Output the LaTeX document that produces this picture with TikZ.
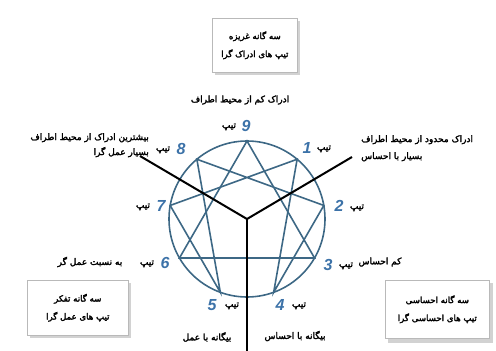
\documentclass[tikz,border=0pt]{standalone}
\usepackage{fontspec}
\setmainfont{Liberation Sans}
\newfontfamily\fab[Script=Arabic,FakeBold=2.5]{DejaVu Sans}
\TeXXeTstate=1
\definecolor{ennea}{HTML}{3D6885}
\definecolor{numblue}{HTML}{3C72A8}
\definecolor{shadowgray}{HTML}{D2D2D2}
\begin{document}
\begin{tikzpicture}[x=1pt,y=-1pt,
  fatxt/.style={font=\fab\fontsize{9}{17}\selectfont, inner sep=1pt},
  tiptxt/.style={font=\fab\fontsize{9}{10}\selectfont, inner sep=1pt},
  numtxt/.style={font=\bfseries\itshape\fontsize{16}{17}\selectfont, text=numblue, inner sep=1pt},
  boxtxt/.style={font=\fab\fontsize{8.6}{18}\selectfont, align=center},
  tribox/.style={draw=gray!55, fill=white, line width=0.6pt},
  axis/.style={line width=2pt, black},
  ennline/.style={line width=1.6pt, ennea}]
\useasboundingbox (0,0) rectangle (496,351);
% center and points
\coordinate (C) at (247,219);
\foreach \k in {1,...,9}{
  \coordinate (p\k) at ({247+78*cos(90-40*\k)},{219-78*sin(90-40*\k)});
}
% boxes with shadow
\fill[shadowgray] (215,21) rectangle (300,75);
\node[tribox, minimum width=85pt, minimum height=54pt, anchor=north west] (topbox) at (212,18) {};
\node[boxtxt] (toptext) at (topbox.center) {\beginR سه گانه غریزه\endR\\ \beginR تیپ های ادراک گرا\endR};
\fill[shadowgray] (30,283) rectangle (131,338);
\node[tribox, minimum width=101pt, minimum height=55pt, anchor=north west] (leftbox) at (27,280) {};
\node[boxtxt] (lefttext) at (leftbox.center) {\beginR سه گانه تفکر\endR\\ \beginR تیپ های عمل گرا\endR};
\fill[shadowgray] (388,283) rectangle (493,343);
\node[tribox, minimum width=104pt, minimum height=58pt, anchor=north west] (rightbox) at (385,280) {};
\node[boxtxt] (righttext) at (rightbox.center) {\beginR سه گانه احساسی\endR\\ \beginR تیپ های احساسی گرا\endR};
% enneagram
\draw[ennline] (C) circle[radius=78pt];
\draw[ennline] (p9) -- (p3) -- (p6) -- cycle;
\draw[ennline] (p1) -- (p4) -- (p2) -- (p8) -- (p5) -- (p7) -- cycle;
% axes
\coordinate (ur) at (352,157);
\coordinate (ul) at (140,156);
\coordinate (dn) at (247,351);
\draw[axis] (C) -- (ur);
\draw[axis] (C) -- (ul);
\draw[axis] (C) -- (dn);
% number labels
\node[numtxt] (n9) at (246,126) {9};
\node[tiptxt] (t9) at (229,127) {\beginR تیپ\endR};
\node[numtxt] (n1) at (307,148) {1};
\node[tiptxt] (t1) at (324,149) {\beginR تیپ\endR};
\node[numtxt] (n2) at (339,206) {2};
\node[tiptxt] (t2) at (357,208) {\beginR تیپ\endR};
\node[numtxt] (n3) at (328,265) {3};
\node[tiptxt] (t3) at (346,266) {\beginR تیپ\endR};
\node[numtxt] (n4) at (280,305) {4};
\node[tiptxt] (t4) at (299,306) {\beginR تیپ\endR};
\node[numtxt] (n5) at (212,305) {5};
\node[tiptxt] (t5) at (232,306) {\beginR تیپ\endR};
\node[numtxt] (n6) at (165,263) {6};
\node[tiptxt] (t6) at (147,264) {\beginR تیپ\endR};
\node[numtxt] (n7) at (161,206) {7};
\node[tiptxt] (t7) at (143,207) {\beginR تیپ\endR};
\node[numtxt] (n8) at (181,149) {8};
\node[tiptxt] (t8) at (163,150) {\beginR تیپ\endR};
% descriptions
\node[fatxt] (d9) at (240,100) {\beginR ادراک کم از محیط اطراف\endR};
\node[fatxt, anchor=north west, align=left] (d1) at (360,134) {\beginR ادراک محدود از محیط اطراف\endR\\ \beginR بسیار با احساس\endR};
\node[fatxt, anchor=north east, align=right] (d8) at (150,132) {\beginR بیشترین ادراک از محیط اطراف\endR\\[-2pt] \beginR بسیار عمل گرا\endR};
\node[fatxt] (d3) at (380,262) {\beginR کم احساس\endR};
\node[fatxt] (d6) at (90,262) {\beginR به نسبت عمل گر\endR};
\node[fatxt] (d4) at (295,336) {\beginR بیگانه با احساس\endR};
\node[fatxt] (d5) at (207,337) {\beginR بیگانه با عمل\endR};
\end{tikzpicture}
\end{document}
